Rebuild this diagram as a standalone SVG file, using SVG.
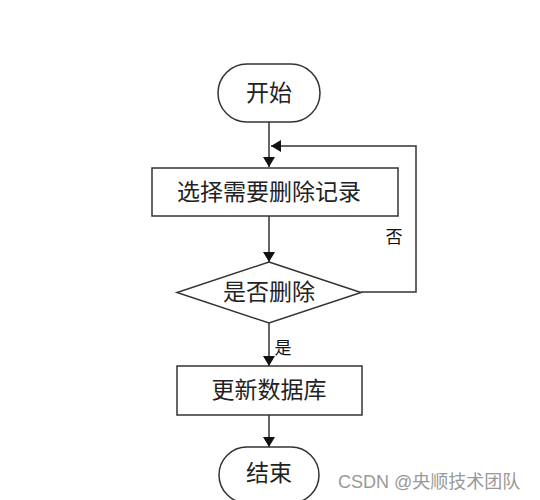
<svg xmlns="http://www.w3.org/2000/svg" width="540" height="500" viewBox="0 0 540 500">
<style>
.s{fill:#fff;stroke:#333;stroke-width:1.5}
.c{fill:none;stroke:#333;stroke-width:1.5}
.t{font-family:"Liberation Serif","Noto Sans CJK SC",serif;font-size:23px;fill:#222;text-anchor:middle;dominant-baseline:central}
.l{font-family:"Liberation Serif","Noto Sans CJK SC",serif;font-size:17px;fill:#111;text-anchor:middle;dominant-baseline:central}
.w{font-family:"Liberation Sans","Noto Sans CJK SC",sans-serif;font-size:18px;fill:#999;dominant-baseline:central}
</style>
<defs>
<marker id="a" markerWidth="10" markerHeight="12" refX="10" refY="6" orient="auto" markerUnits="userSpaceOnUse">
<path d="M0,0 L10,6 L0,12 Z" fill="#111"/>
</marker>
</defs>
<rect width="540" height="500" fill="#fff"/>
<g id="connectors">
<line class="c" x1="269" y1="122" x2="269" y2="167" marker-end="url(#a)"/>
<polyline class="c" points="361,292 416,292 416,146 271,146" marker-end="url(#a)"/>
<line class="c" x1="269" y1="216" x2="269" y2="262" marker-end="url(#a)"/>
<line class="c" x1="269" y1="323" x2="269" y2="366" marker-end="url(#a)"/>
<line class="c" x1="269" y1="415" x2="269" y2="447" marker-end="url(#a)"/>
<text class="l" x="394" y="237">否</text>
<text class="l" x="283" y="348">是</text>
</g>
<g id="start">
<rect class="s" x="218" y="64" width="102" height="58" rx="29"/>
<text class="t" x="269" y="93">开始</text>
</g>
<g id="select">
<rect class="s" x="152" y="168" width="246" height="48"/>
<text class="t" x="269" y="192">选择需要删除记录</text>
</g>
<g id="decide">
<polygon class="s" points="269,262 361,292.5 269,323 177,292.5"/>
<text class="t" x="269" y="292">是否删除</text>
</g>
<g id="update">
<rect class="s" x="177" y="366" width="185" height="49"/>
<text class="t" x="269" y="390">更新数据库</text>
</g>
<g id="end">
<rect class="s" x="219" y="447" width="100" height="56" rx="28"/>
<text class="t" x="269" y="473">结束</text>
</g>
<text class="w" x="338" y="482">CSDN @央顺技术团队</text>
</svg>
